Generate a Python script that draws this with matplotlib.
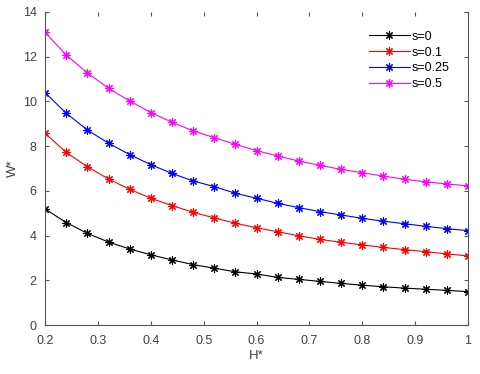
import matplotlib.pyplot as plt

plt.rcParams['font.family'] = ['Liberation Sans', 'DejaVu Sans']

h = [0.20, 0.24, 0.28, 0.32, 0.36, 0.40, 0.44, 0.48, 0.52, 0.56, 0.60,
     0.64, 0.68, 0.72, 0.76, 0.80, 0.84, 0.88, 0.92, 0.96, 1.00]

w_s0 = [5.19, 4.58, 4.10, 3.71, 3.40, 3.14, 2.91, 2.70, 2.54, 2.38, 2.28,
        2.13, 2.04, 1.95, 1.86, 1.78, 1.71, 1.65, 1.60, 1.55, 1.49]
w_s01 = [8.57, 7.72, 7.08, 6.53, 6.07, 5.67, 5.34, 5.04, 4.79, 4.55, 4.35,
         4.17, 3.99, 3.83, 3.70, 3.58, 3.47, 3.37, 3.28, 3.18, 3.09]
w_s025 = [10.39, 9.47, 8.72, 8.13, 7.62, 7.17, 6.78, 6.44, 6.19, 5.89, 5.67,
          5.44, 5.25, 5.07, 4.92, 4.77, 4.64, 4.53, 4.41, 4.31, 4.22]
w_s05 = [13.09, 12.07, 11.28, 10.58, 10.02, 9.50, 9.07, 8.68, 8.38, 8.08, 7.80,
         7.56, 7.33, 7.14, 6.96, 6.81, 6.66, 6.52, 6.40, 6.31, 6.22]

series = [(w_s0, 's=0', 'black'), (w_s01, 's=0.1', 'red'),
          (w_s025, 's=0.25', 'blue'), (w_s05, 's=0.5', 'magenta')]

fig = plt.figure(figsize=(4.8, 3.74), dpi=100)
ax = fig.add_axes([0.094, 0.131, 0.881, 0.837])

for w, lab, c in series:
    ax.plot(h, w, color=c, lw=0.8, marker=(8, 2, 0), ms=6, mew=0.8, label=lab)

ax.set_xlim(0.2, 1)
ax.set_ylim(0, 14)
ax.set_xticks([0.2, 0.3, 0.4, 0.5, 0.6, 0.7, 0.8, 0.9, 1])
ax.set_xticklabels(['0.2', '0.3', '0.4', '0.5', '0.6', '0.7', '0.8', '0.9', '1'])
ax.set_yticks(range(0, 15, 2))

gray = '#404040'
for s in ['left', 'bottom', 'right']:
    ax.spines[s].set_color('#555555')
    ax.spines[s].set_linewidth(0.8)
ax.spines['top'].set_visible(False)
ax.tick_params(direction='in', top=True, right=True, length=3, width=0.8,
               colors='#555555', labelcolor=gray, labelsize=9)
ax.tick_params(axis='x', pad=7)
ax.tick_params(axis='y', pad=6)

ax.set_xlabel('H*', color=gray, fontsize=9.5, labelpad=2)
ax.set_ylabel('W*', color=gray, fontsize=9.5, labelpad=3)

ax.legend(loc='upper left', frameon=False, fontsize=9, handlelength=3.3,
          labelspacing=0.3, borderaxespad=0, borderpad=0, handletextpad=0.15,
          bbox_to_anchor=(0.765, 0.94))

fig.savefig('out.png', dpi=100)
